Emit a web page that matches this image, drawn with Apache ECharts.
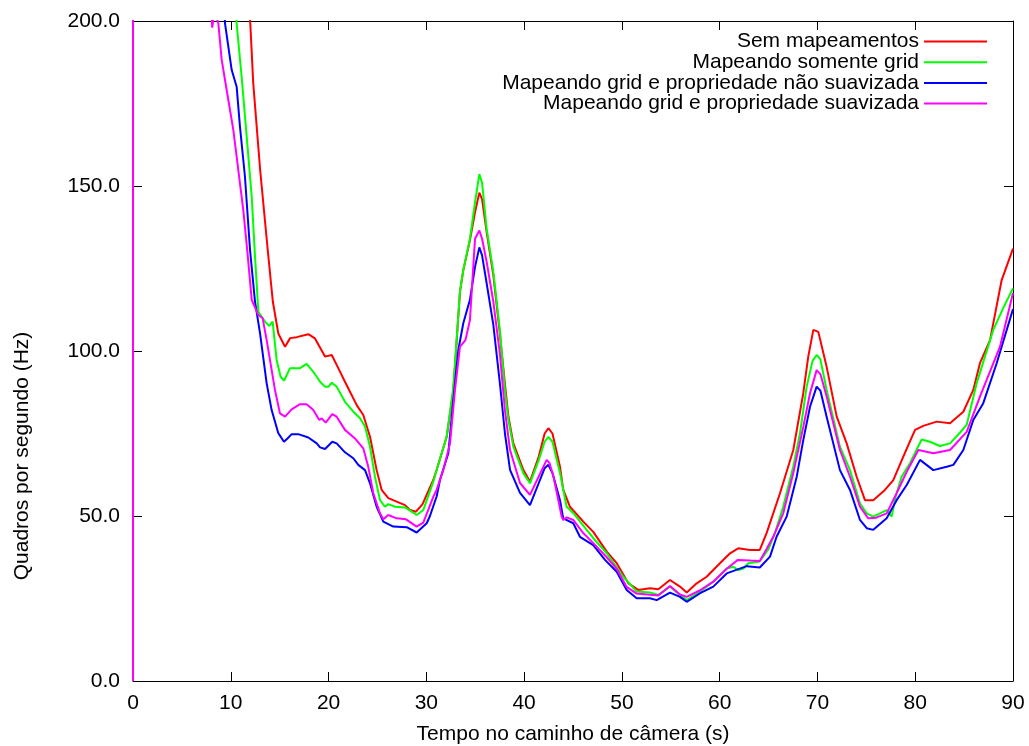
<!DOCTYPE html>
<html>
<head>
<meta charset="utf-8">
<title>Quadros por segundo</title>
<script src="https://cdn.jsdelivr.net/npm/echarts@6/dist/echarts.min.js"></script>
<style>
    html, body { margin: 0; padding: 0; background: #fff; }
    #chart-fps { width: 1029px; height: 746px; }
</style>
</head>
<body>
<div id="chart-fps"></div>
<script>
// nomes das séries (legenda)
var seriesNames = [
    'Sem mapeamentos',
    'Mapeando somente grid',
    'Mapeando grid e propriedade não suavizada',
    'Mapeando grid e propriedade suavizada'
];

// ticks dos eixos
var xTicks = [0, 10, 20, 30, 40, 50, 60, 70, 80, 90];
var yTicks = [0, 50, 100, 150, 200];

// [tempo (s), quadros por segundo]
var semMapeamentos = [
    [0, 0], [0, 1000], [6, 500], [11.5, 226], [12.0, 199], [12.3, 181], [13.0, 155], [13.8, 130], [14.3, 115],
    [14.86, 105.3], [15.55, 101.3], [16.07, 103.9], [16.74, 104.2], [17.93, 105.1], [18.61, 103.8], [19.64, 98.3],
    [20.32, 98.8], [20.83, 95.8], [21.68, 90.7], [22.88, 83.6], [23.55, 80.6], [24.24, 74.0], [24.92, 63.9],
    [25.43, 57.9], [26.11, 55.4], [27.82, 53.3], [28.33, 51.8], [28.94, 51.3], [29.6, 53.5], [30.71, 60.9],
    [31.06, 64], [32.08, 74.0], [32.76, 88], [33.44, 118], [33.78, 124.5], [34.46, 133.6], [34.98, 142],
    [35.42, 148.0], [35.7, 146], [36.17, 136], [36.85, 123], [37.53, 105], [38.04, 90], [38.4, 80], [38.9, 72],
    [39.92, 64], [40.6, 60.4], [41.5, 68], [42.1, 75], [42.48, 76.6], [42.9, 75], [43.67, 64.9], [44.0, 58],
    [44.69, 52.8], [46.05, 48.3], [47.07, 45.2], [48.45, 39.2], [49.47, 35.7], [50.66, 29.6], [51.68, 27.6],
    [52.87, 28.1], [53.73, 27.8], [54.92, 30.6], [55.94, 28.6], [56.63, 26.8], [57.65, 29.6], [58.67, 31.6],
    [60.03, 35.7], [61.06, 38.7], [61.9, 40.2], [63.1, 39.7], [64.1, 39.7], [64.8, 44.8], [66.17, 56.9],
    [67.53, 70], [68.55, 87.2], [69.06, 98.3], [69.58, 106.4], [70.09, 105.8], [70.94, 95.2], [71.97, 80.1],
    [72.99, 72], [74.01, 61.9], [74.86, 54.8], [75.71, 54.8], [76.9, 57.9], [77.76, 60.9], [78.78, 68.0],
    [79.98, 76.1], [80.83, 77.3], [82.19, 78.6], [83.56, 78.1], [84.92, 81.6], [85.94, 88.2], [86.62, 96.3],
    [87.65, 103.3], [88.84, 121.5], [90, 131]
];

var somenteGrid = [
    [0, 0], [0, 1000], [6, 500], [10.1, 228], [10.6, 199.3], [11.11, 183.1], [11.63, 164.9], [12.14, 146.8],
    [12.48, 128.6], [12.82, 111.9], [13.5, 108.9], [13.94, 107.6], [14.28, 108.9], [14.69, 97.3], [15.1, 92.2],
    [15.44, 91.0], [16.06, 94.8], [17.08, 94.8], [17.76, 96.1], [18.44, 93.7], [19.13, 90.7], [19.64, 89.2],
    [20.0, 89.2], [20.32, 90.4], [20.83, 89.2], [21.68, 84.6], [22.53, 81.6], [23.22, 79.6], [23.73, 77.1],
    [24.24, 71.0], [24.75, 61.9], [25.26, 54.8], [25.77, 52.8], [26.11, 53.6], [26.8, 52.8], [27.82, 52.6],
    [28.5, 51.3], [29.01, 50.3], [29.69, 51.8], [30.71, 60.4], [31.06, 64], [32.08, 74.0], [32.76, 89],
    [33.44, 118], [33.78, 124.5], [34.46, 134], [34.98, 145], [35.42, 153.6], [35.7, 151], [36.17, 137],
    [36.85, 124], [37.53, 106], [38.04, 88], [38.4, 79], [38.9, 71], [39.92, 63], [40.6, 59.9], [41.5, 67],
    [42.1, 72.5], [42.48, 74.0], [42.9, 72.5], [43.67, 63], [44.35, 52.8], [45.0, 51], [46.4, 45.8],
    [47.3, 42.5], [48.45, 38.7], [50.15, 31.6], [51.51, 27.1], [52.87, 26.8], [53.73, 26.1], [54.92, 28.6],
    [55.94, 26.1], [56.63, 24.5], [58.0, 27.1], [59.35, 30.1], [60.72, 34.1], [61.4, 34.6], [61.91, 33.6],
    [62.43, 34.1], [62.94, 35.7], [64.1, 36.2], [65.0, 40], [65.65, 44.8], [66.5, 52.8], [67.53, 65],
    [68.21, 75], [68.9, 89.2], [69.5, 97], [69.92, 98.8], [70.3, 97.5], [70.94, 88.2], [72.3, 71],
    [73.33, 63.9], [74.35, 53.8], [75.04, 50.8], [75.71, 49.8], [77.08, 51.8], [77.59, 49.8], [78.0, 56],
    [78.61, 61.9], [79.46, 66.0], [80.66, 73.2], [81.5, 72.5], [82.53, 71.2], [83.56, 72.0], [84.5, 75],
    [85.26, 77.6], [86.28, 90.2], [87.98, 106.4], [89.0, 113], [90, 119]
];

var gridNaoSuavizada = [
    [0, 0], [0, 1000], [5, 500], [9.0, 222], [9.41, 199.3], [10.09, 185.2], [10.6, 180.1], [10.94, 168],
    [11.45, 152.8], [11.97, 130.6], [12.48, 114.9], [12.99, 105.4], [13.67, 90.2], [14.18, 82.1], [14.86, 75.1],
    [15.44, 72.5], [15.8, 73.5], [16.23, 74.8], [16.91, 74.8], [17.93, 73.8], [18.79, 72.0], [19.13, 70.8],
    [19.64, 70.3], [20.38, 72.5], [20.83, 72.0], [21.68, 69.3], [22.53, 67.5], [23.04, 65.5], [23.73, 63.9],
    [24.24, 59.9], [24.92, 52.8], [25.6, 48.3], [26.62, 46.8], [27.99, 46.6], [29.01, 45.0], [30.04, 47.8],
    [30.37, 50], [31.06, 56], [31.4, 61], [32.25, 69], [32.76, 85.2], [33.27, 100.3], [33.78, 108.4],
    [34.46, 115.5], [34.98, 125.5], [35.42, 131.4], [35.7, 129], [36.17, 120.5], [36.85, 108], [37.53, 90],
    [38.04, 75], [38.56, 64], [39.58, 57], [40.6, 53.3], [41.5, 60], [42.1, 64.5], [42.48, 65.5], [42.9, 63],
    [43.67, 54.8], [44.0, 49.3], [45.03, 47.8], [45.71, 43.7], [47.07, 41.2], [48.27, 36.7], [49.47, 33.1],
    [50.49, 27.6], [51.51, 25.1], [52.87, 25.1], [53.56, 24.5], [54.92, 26.8], [55.94, 25.5], [56.63, 24.0],
    [58.0, 26.6], [59.35, 28.6], [60.72, 32.6], [62.76, 34.8], [64.1, 34.4], [65.15, 37.7], [65.82, 43.7],
    [66.85, 49.8], [67.88, 61.9], [68.55, 73], [69.24, 83.1], [69.92, 89.2], [70.3, 88], [70.94, 80.1],
    [72.3, 63.9], [73.33, 57.9], [74.35, 48.8], [75.04, 46.3], [75.71, 45.8], [77.08, 49.3], [78.1, 54.8],
    [79.13, 59.4], [80.49, 67.0], [81.85, 63.9], [83.22, 64.9], [83.9, 65.5], [84.92, 70.0], [85.94, 79.1],
    [86.96, 84.2], [88.33, 96.3], [90, 112.7]
];

var gridSuavizada = [
    [0, 0], [0, 1000], [4, 500], [7.8, 215], [8.1, 198], [8.35, 203], [8.73, 199.3], [9.07, 188.2],
    [9.58, 179.1], [10.26, 167], [10.77, 154.8], [11.28, 142.7], [11.7, 130], [12.14, 115.5], [12.82, 110.9],
    [13.26, 109.9], [13.67, 103.3], [14.52, 88.2], [15.03, 81.1], [15.55, 80.1], [16.23, 82.3], [17.08, 83.9],
    [17.76, 83.9], [18.44, 82.1], [19.05, 79.1], [19.3, 79.6], [19.71, 78.3], [20.38, 80.9], [20.83, 80.1],
    [21.68, 76.1], [22.7, 73.5], [23.55, 70.5], [24.06, 64.9], [24.58, 56.9], [25.26, 50.8], [25.6, 49.0],
    [26.11, 50.3], [26.97, 49.3], [27.92, 49.0], [29.01, 46.8], [29.69, 48.0], [30.71, 55.8], [31.06, 58],
    [31.73, 63.9], [32.42, 72.0], [32.93, 88.2], [33.44, 101.3], [34.0, 103.3], [34.46, 109.4], [34.98, 134],
    [35.42, 136.5], [35.7, 134], [36.17, 127], [36.85, 115], [37.53, 99], [38.04, 82], [38.56, 70],
    [39.58, 60], [40.6, 56.4], [41.5, 62], [42.31, 67.0], [42.6, 66], [43.0, 62], [43.84, 49.8], [44.01, 48.8],
    [44.35, 49.6], [45.03, 48.8], [46.0, 45], [47.0, 42], [48.45, 37.5], [49.47, 34], [50.49, 28.5],
    [51.5, 26.5], [52.87, 26.1], [53.73, 25.9], [54.92, 28.8], [55.94, 26.2], [56.63, 25.5], [58.0, 27.5],
    [59.35, 30.1], [60.72, 34], [61.86, 36.7], [63.1, 36.5], [64.1, 36.4], [64.8, 40], [65.48, 43.7],
    [66.5, 50.8], [67.53, 63], [68.55, 77], [69.24, 87.2], [69.92, 94.2], [70.3, 93], [70.94, 86.2],
    [72.3, 70], [73.33, 61.9], [74.35, 52.8], [75.2, 49.3], [76.0, 49.5], [77.08, 50.8], [78.1, 56.9],
    [79.13, 63.4], [80.32, 70.0], [81.85, 69.0], [83.56, 70.0], [85.26, 75.5], [86.62, 86.2], [88.67, 101.3],
    [90, 117.6]
];

var seriesColors = ['#ff0000', '#00ff00', '#0000ff', '#ff00ff'];

window.onload = function()
{
    paintChart();
}

function paintChart()
{
    var myChart = echarts.init(document.getElementById('chart-fps'));
    var font = 'Liberation Sans';
    var fontSize = 21;
    var allData = [semMapeamentos, somenteGrid, gridNaoSuavizada, gridSuavizada];

    var series = [];
    var legends = [];
    for (var i = 0; i < seriesNames.length; i++) {
        series.push({
            name: seriesNames[i],
            type: 'line',
            data: allData[i],
            showSymbol: false,
            clip: true,
            lineStyle: { color: seriesColors[i], width: 2 },
            itemStyle: { color: seriesColors[i] }
        });
        // uma legenda por linha, alinhada à direita como no gnuplot
        legends.push({
            data: [seriesNames[i]],
            right: 42,
            top: 31 + i * 20.7,
            padding: 0,
            align: 'right',
            icon: 'rect',
            itemWidth: 63,
            itemHeight: 2,
            selectedMode: false,
            textStyle: { fontFamily: font, fontSize: fontSize, color: '#000', lineHeight: 20 }
        });
    }

    var axisCommon = {
        type: 'value',
        axisLine: { show: true, onZero: false, lineStyle: { color: '#000', width: 1 } },
        axisTick: { show: true, inside: true, length: 9, lineStyle: { color: '#000' } },
        splitLine: { show: false }
    };

    var option = {
        animation: false,
        backgroundColor: '#fff',
        legend: legends,
        grid: { left: 133, right: 16, top: 21, bottom: 65, containLabel: false, outerBoundsMode: 'none' },
        // título do eixo y (no gnuplot ele fica abaixo do centro)
        graphic: [{
            type: 'text',
            x: 22,
            y: 456,
            rotation: Math.PI / 2,
            style: {
                text: 'Quadros por segundo (Hz)',
                fontFamily: font,
                fontSize: fontSize,
                fill: '#000',
                align: 'center',
                verticalAlign: 'middle'
            }
        }],
        xAxis: [
            Object.assign({}, axisCommon, {
                min: 0, max: 90, interval: 10,
                name: 'Tempo no caminho de câmera (s)',
                nameLocation: 'middle',
                nameGap: 43,
                nameTextStyle: { fontFamily: font, fontSize: fontSize, color: '#000' },
                axisLabel: { margin: 12, fontFamily: font, fontSize: fontSize, color: '#000' }
            }),
            Object.assign({}, axisCommon, {
                position: 'top', min: 0, max: 90, interval: 10,
                axisLabel: { show: false }
            })
        ],
        yAxis: [
            Object.assign({}, axisCommon, {
                min: 0, max: 200, interval: 50,
                axisLabel: {
                    margin: 13, fontFamily: font, fontSize: fontSize, color: '#000',
                    formatter: function (v) { return v.toFixed(1); }
                }
            }),
            Object.assign({}, axisCommon, {
                position: 'right', min: 0, max: 200, interval: 50,
                axisLabel: { show: false }
            })
        ],
        series: series
    };
    myChart.setOption(option);
}
</script>
</body>
</html>
